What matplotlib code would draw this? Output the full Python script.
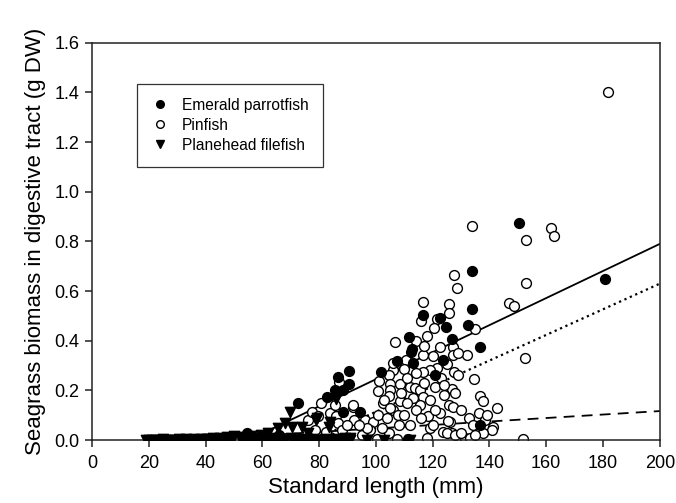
import numpy as np
import matplotlib
matplotlib.use('Agg')
import matplotlib.pyplot as plt
from matplotlib.lines import Line2D

plt.rcParams['font.family'] = ['Liberation Sans', 'DejaVu Sans']

# Emerald parrotfish (filled circles)
parrot_x = [54.6, 58, 62, 66, 72.5, 82.7, 85.6, 86.6, 88.5, 90.5, 90.5, 88.4, 94.4,
            101.8, 107.4, 111.6, 112.7, 113.1, 116.6, 120.8, 122.5, 123.6, 124.6,
            126.8, 132.5, 133.7, 133.7, 136.6, 136.6, 150.4, 180.6, 111.3, 112.5]
parrot_y = [0.03, 0.01, 0.005, 0.02, 0.15, 0.175, 0.2, 0.254, 0.2, 0.278, 0.226, 0.113, 0.113,
            0.274, 0.318, 0.415, 0.367, 0.31, 0.504, 0.262, 0.49, 0.322, 0.456,
            0.407, 0.464, 0.528, 0.681, 0.375, 0.06, 0.875, 0.65, 0.005, 0.355]

# Pinfish (open circles)
pin_x = [181.7, 161.6, 162.7, 152.8, 133.7, 152.8, 127.5, 128.6, 146.8, 148.6,
         116.6, 125.7, 125.7, 115.8, 121.6, 120.4, 134.9, 106.7, 122.5, 127.1,
         132, 152.5, 116.6, 110.6, 127.2, 125.2, 121.5, 119, 116.6, 112.7,
         109.9, 106, 104.6, 127.5, 129, 134.5, 104.9, 108.5, 112, 113.7,
         115.5, 100.7, 104.9, 120.8, 126.8, 116.6, 104.6, 136.6, 137.7, 108.5,
         102.5, 115.5, 125.7, 127, 142.6, 106, 91.9, 92, 80.6, 87,
         92.3, 96.1, 98.9, 100.7, 103.9, 107.7, 112, 118.3, 122.5, 126,
         123.6, 126.8, 104.6, 136.3, 125.4, 132.7, 134.2, 138.4, 141.2, 140.8,
         137.7, 125, 127.8, 131.3, 133, 151.8, 107.3, 100.5, 76, 78.5,
         77.5, 79.6, 83.8, 86, 86.6, 83.8, 82.4, 88, 90, 95,
         98, 110, 114, 119, 121, 130, 118, 101, 103, 105,
         109, 111, 113, 117, 119, 120, 123, 124, 128, 129,
         118, 114, 117, 97, 94, 85.5, 102, 106, 108, 111,
         114, 116, 120, 124, 130, 135, 139]
pin_y = [1.40, 0.855, 0.823, 0.806, 0.863, 0.633, 0.665, 0.612, 0.552, 0.54,
         0.557, 0.548, 0.512, 0.48, 0.488, 0.452, 0.447, 0.395, 0.375, 0.375,
         0.343, 0.33, 0.343, 0.322, 0.343, 0.305, 0.29, 0.282, 0.274, 0.278,
         0.286, 0.282, 0.262, 0.275, 0.262, 0.245, 0.226, 0.226, 0.214, 0.21,
         0.2, 0.198, 0.2, 0.214, 0.206, 0.173, 0.177, 0.177, 0.157, 0.157,
         0.149, 0.141, 0.141, 0.133, 0.129, 0.121, 0.133, 0.141, 0.15, 0.235,
         0.081, 0.081, 0.073, 0.1, 0.089, 0.1, 0.06, 0.097, 0.109, 0.073,
         0.032, 0.03, 0.028, 0.109, 0.077, 0.089, 0.06, 0.081, 0.052, 0.04,
         0.028, 0.03, 0.02, 0.01, 0.01, 0.005, 0.005, 0.005, 0.081, 0.04,
         0.113, 0.097, 0.109, 0.097, 0.069, 0.012, 0.032, 0.04, 0.06, 0.02,
         0.04, 0.1, 0.12, 0.05, 0.12, 0.03, 0.01, 0.24, 0.16, 0.13,
         0.19, 0.25, 0.17, 0.23, 0.16, 0.34, 0.25, 0.18, 0.19, 0.35,
         0.42, 0.4, 0.38, 0.05, 0.06, 0.14, 0.05, 0.31, 0.06, 0.15,
         0.27, 0.09, 0.06, 0.22, 0.12, 0.02, 0.1]

# Planehead filefish (filled triangles)
file_x = [19, 20, 21, 22.5, 24, 25, 26.5, 28, 29, 30.5, 32, 33, 34.5, 36, 37, 38.5,
          40, 41, 42.5, 44, 45, 46.5, 47.5, 49, 50, 52, 53.5, 55, 56, 58, 59.5,
          61, 63, 64.5, 66, 68, 70, 72, 74, 76, 78, 80, 82, 84, 86, 88, 91, 103, 112,
          69.7, 85.9, 65.5, 70.4, 74, 79.2, 83.5, 79, 83.8, 90.8, 62, 68, 76, 89, 97]
file_y = [0, 0, 0, 0.002, 0, 0.003, 0, 0.002, 0, 0.004, 0, 0.003, 0.002, 0.005, 0, 0.004,
          0.006, 0.003, 0.008, 0.005, 0.01, 0.006, 0.012, 0.008, 0.015, 0.01, 0.012, 0.006, 0.015, 0.01, 0.02,
          0.005, 0.01, 0.0, 0.005, 0.0, 0.01, 0.0, 0.005, 0.0, 0.005, 0.0, 0.003, 0.0, 0.005, 0.0, 0.002, 0.0, 0.0,
          0.113, 0.167, 0.048, 0.052, 0.052, 0.089, 0.052, 0.08, 0.073, 0.008, 0.03, 0.07, 0.03, 0.01, 0.0]

# regression lines: (slope, intercept), plotted from where they cross zero up to 200
fit_parrot = (0.00545, -0.300)
fit_pin = (0.00516, -0.402)
fit_file = (0.0007, -0.023)

fig = plt.figure(figsize=(6.76, 5.03), dpi=100)
ax = fig.add_axes([0.136, 0.125, 0.840, 0.790])

for (m, b), ls in [(fit_parrot, '-'), (fit_pin, ':'), (fit_file, (0, (6, 4)))]:
    x0 = max(-b / m, 0)
    xs = np.array([x0, 200])
    ax.plot(xs, m * xs + b, color='black', lw=1.3 if ls != ':' else 1.6,
            linestyle=ls, zorder=1)

ax.scatter(pin_x, pin_y, s=50, facecolors='white', edgecolors='black', linewidths=1.0, zorder=2)
ax.scatter(parrot_x, parrot_y, s=50, color='black', zorder=3)
ax.scatter(file_x, file_y, s=55, marker='v', color='black', zorder=4)

ax.set_xlim(0, 200)
ax.set_ylim(0, 1.6)
ax.set_xticks(np.arange(0, 201, 20))
ax.set_yticks(np.arange(0, 1.61, 0.2))
ax.set_yticklabels([f'{v:.1f}' for v in np.arange(0, 1.61, 0.2)])
ax.tick_params(direction='out', length=5, width=1.1, labelsize=13, color='#222222', pad=4)
ax.tick_params(axis='x', pad=6)
for sp in ax.spines.values():
    sp.set_linewidth(1.1)
    sp.set_color('#222222')

ax.set_xlabel('Standard length (mm)', fontsize=16, labelpad=3)
ax.set_ylabel('Seagrass biomass in digestive tract (g DW)', fontsize=16, labelpad=6)

handles = [Line2D([], [], marker='o', color='black', ls='none', markersize=5.5),
           Line2D([], [], marker='o', markerfacecolor='white', markeredgecolor='black', ls='none', markersize=5.5),
           Line2D([], [], marker='v', color='black', ls='none', markersize=6)]
leg = ax.legend(handles, ['Emerald parrotfish', 'Pinfish', 'Planehead filefish'],
                loc='upper left', bbox_to_anchor=(0.079, 0.897), borderaxespad=0,
                fontsize=11.2, fancybox=False, framealpha=1, edgecolor='#333333',
                handletextpad=0.8, labelspacing=0.32, borderpad=0.9, handlelength=1.2)
leg.get_frame().set_linewidth(0.9)

fig.savefig('out.png', dpi=100)
